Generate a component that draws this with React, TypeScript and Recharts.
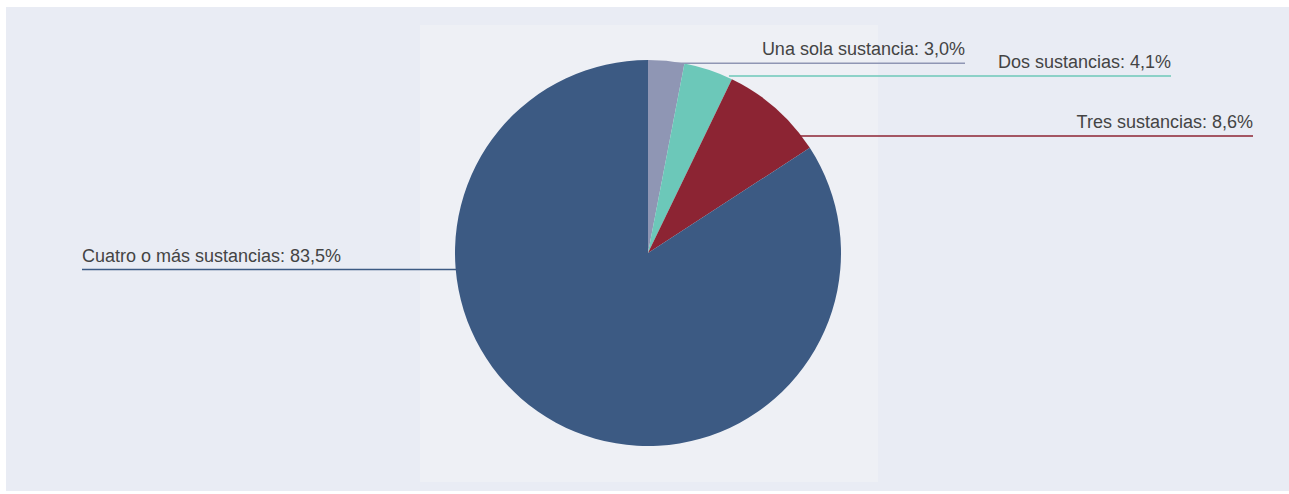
import React from "react";
import { PieChart, Pie, Cell } from "recharts";

const CATEGORIES = ["Una sola sustancia", "Dos sustancias", "Tres sustancias", "Cuatro o más sustancias"];
const SHARES = [3.0, 4.1, 8.6, 83.5];

const COLORS = ["#8f96b4", "#6cc8b9", "#8c2433", "#3c5a83"];

// horizontal leader lines: offset from centre, how far they reach into the slice, where they end
const LABEL_LAYOUT = [
  { dy: -189.7, inset: 17, end: 317 },
  { dy: -177, inset: -4, end: 523 },
  { dy: -117, inset: 2, end: 605 },
  { dy: 16.5, inset: 4, end: -566 },
];

const chartData = CATEGORIES.map((name, i) => ({ name, value: SHARES[i] }));

const fmt = (v: number) => v.toFixed(1).replace(".", ",") + "%";

const renderLabel = (props: any) => {
  const { cx, cy, outerRadius, index, name, value } = props;
  const lay = LABEL_LAYOUT[index];
  const y = cy + lay.dy;
  const half = Math.sqrt(Math.max(outerRadius * outerRadius - lay.dy * lay.dy, 0));
  const right = lay.end > 0;
  const startX = right ? cx + half - lay.inset : cx - half + lay.inset;
  const endX = cx + lay.end;
  return (
    <g key={`lbl-${index}`}>
      <line x1={startX} y1={y} x2={endX} y2={y} stroke={COLORS[index]} strokeWidth={1.6} />
      <text
        x={endX}
        y={y - 8}
        textAnchor={right ? "end" : "start"}
        fill="#444444"
        fontSize={18}
        fontFamily="'Liberation Sans', Arial, sans-serif"
      >
        {`${name}: ${fmt(value)}`}
      </text>
    </g>
  );
};

export default function App() {
  return (
    <div style={{ position: "fixed", left: 0, top: 0, width: 1289, height: 494, background: "#ffffff", overflow: "hidden" }}>
      <div style={{ position: "absolute", left: 6, top: 7, width: 1283, height: 484, background: "#e9ecf4" }} />
      <div style={{ position: "absolute", left: 420, top: 25, width: 458, height: 457, background: "#eef0f5" }} />
      <div style={{ position: "absolute", left: 0, top: 0 }}>
        <PieChart width={1289} height={494} margin={{ top: 0, right: 0, bottom: 0, left: 0 }}>
          <Pie
            data={chartData}
            dataKey="value"
            nameKey="name"
            cx={648}
            cy={253}
            outerRadius={193}
            startAngle={90}
            endAngle={-270}
            stroke="none"
            label={renderLabel}
            labelLine={false}
            isAnimationActive={false}
          >
            {chartData.map((_, i) => (
              <Cell key={`cell-${i}`} fill={COLORS[i]} />
            ))}
          </Pie>
        </PieChart>
      </div>
    </div>
  );
}
